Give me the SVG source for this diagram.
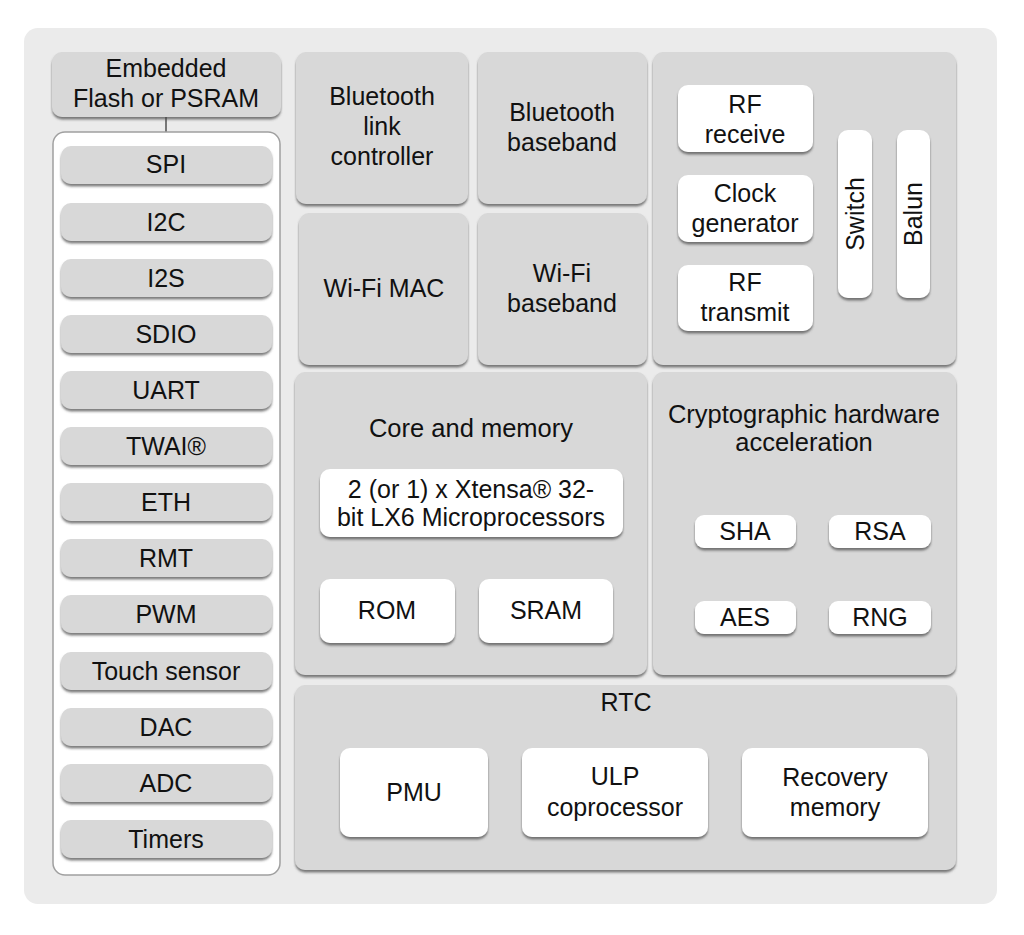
<svg xmlns="http://www.w3.org/2000/svg" width="1024" height="935" viewBox="0 0 1024 935">
<defs>
<filter id="sh" x="-10%" y="-10%" width="120%" height="130%">
<feDropShadow dx="0" dy="2.5" stdDeviation="1" flood-color="#444" flood-opacity="0.7"/>
</filter>
<style>
.g{fill:#d8d8d8;filter:url(#sh)}
.w{fill:#ffffff;filter:url(#sh)}
text{font-family:"Liberation Sans",Arial,sans-serif;font-size:25px;fill:#111;text-anchor:middle}
.t{font-size:25.5px}
</style>
</defs>
<rect x="24" y="28" width="973" height="876" rx="14" fill="#ebebeb"/>
<g id="connectors">
<line x1="166" y1="117" x2="166" y2="146" stroke="#777" stroke-width="2"/>
</g>
<g id="embedded">
<rect class="g" x="52" y="52" width="229" height="65" rx="10"/>
<text x="166" y="77">Embedded</text>
<text x="166" y="107">Flash or PSRAM</text>
</g>
<g id="peripherals">
<rect x="53" y="132" width="227" height="743" rx="12" fill="#fff" stroke="#a0a0a0" stroke-width="1.5"/>
</g>
<g id="spi"><rect class="g" x="61" y="146" width="211" height="38" rx="10"/><text x="166" y="173">SPI</text></g>
<g id="i2c"><rect class="g" x="61" y="203" width="211" height="38" rx="10"/><text x="166" y="231">I2C</text></g>
<g id="i2s"><rect class="g" x="61" y="259" width="211" height="38" rx="10"/><text x="166" y="287">I2S</text></g>
<g id="sdio"><rect class="g" x="61" y="315" width="211" height="38" rx="10"/><text x="166" y="343">SDIO</text></g>
<g id="uart"><rect class="g" x="61" y="371" width="211" height="38" rx="10"/><text x="166" y="399">UART</text></g>
<g id="twai"><rect class="g" x="61" y="427" width="211" height="38" rx="10"/><text x="166" y="455">TWAI®</text></g>
<g id="eth"><rect class="g" x="61" y="483" width="211" height="38" rx="10"/><text x="166" y="511">ETH</text></g>
<g id="rmt"><rect class="g" x="61" y="539" width="211" height="38" rx="10"/><text x="166" y="567">RMT</text></g>
<g id="pwm"><rect class="g" x="61" y="595" width="211" height="38" rx="10"/><text x="166" y="623">PWM</text></g>
<g id="touch"><rect class="g" x="61" y="652" width="211" height="38" rx="10"/><text x="166" y="680">Touch sensor</text></g>
<g id="dac"><rect class="g" x="61" y="708" width="211" height="38" rx="10"/><text x="166" y="736">DAC</text></g>
<g id="adc"><rect class="g" x="61" y="764" width="211" height="38" rx="10"/><text x="166" y="792">ADC</text></g>
<g id="timers"><rect class="g" x="61" y="820" width="211" height="38" rx="10"/><text x="166" y="848">Timers</text></g>

<g id="bt-link"><rect class="g" x="296" y="52" width="172" height="152" rx="10"/>
<text x="382" y="105">Bluetooth</text><text x="382" y="135">link</text><text x="382" y="165">controller</text></g>
<g id="bt-baseband"><rect class="g" x="478" y="52" width="169" height="152" rx="10"/>
<text x="562" y="121">Bluetooth</text><text x="562" y="151">baseband</text></g>
<g id="wifi-mac"><rect class="g" x="299" y="213" width="169" height="152" rx="10"/>
<text x="384" y="297">Wi-Fi MAC</text></g>
<g id="wifi-baseband"><rect class="g" x="478" y="213" width="169" height="152" rx="10"/>
<text x="562" y="282">Wi-Fi</text><text x="562" y="312">baseband</text></g>

<g id="rf"><rect class="g" x="653" y="52" width="303" height="313" rx="10"/></g>
<g id="rf-receive"><rect class="w" x="678" y="85" width="135" height="67" rx="10"/>
<text x="745" y="113">RF</text><text x="745" y="143">receive</text></g>
<g id="clock"><rect class="w" x="678" y="175" width="135" height="67" rx="10"/>
<text x="745" y="202">Clock</text><text x="745" y="232">generator</text></g>
<g id="rf-transmit"><rect class="w" x="678" y="265" width="135" height="66" rx="10"/>
<text x="745" y="291">RF</text><text x="745" y="321">transmit</text></g>
<g id="switch"><rect class="w" x="838" y="130" width="34" height="168" rx="10"/>
<text transform="translate(864,214) rotate(-90)">Switch</text></g>
<g id="balun"><rect class="w" x="897" y="130" width="33" height="168" rx="10"/>
<text transform="translate(922,214) rotate(-90)">Balun</text></g>

<g id="core"><rect class="g" x="295" y="372" width="352" height="303" rx="10"/>
<text class="t" x="471" y="437">Core and memory</text></g>
<g id="xtensa"><rect class="w" x="320" y="469" width="303" height="68" rx="10"/>
<text x="471" y="498">2 (or 1) x Xtensa® 32-</text><text x="471" y="526">bit LX6 Microprocessors</text></g>
<g id="rom"><rect class="w" x="320" y="579" width="135" height="64" rx="10"/><text x="387" y="619">ROM</text></g>
<g id="sram"><rect class="w" x="479" y="579" width="134" height="64" rx="10"/><text x="546" y="619">SRAM</text></g>

<g id="crypto"><rect class="g" x="653" y="372" width="303" height="303" rx="10"/>
<text class="t" x="804" y="423">Cryptographic hardware</text><text class="t" x="804" y="451">acceleration</text></g>
<g id="sha"><rect class="w" x="695" y="515" width="101" height="33" rx="9"/><text x="745" y="540">SHA</text></g>
<g id="rsa"><rect class="w" x="829" y="515" width="102" height="33" rx="9"/><text x="880" y="540">RSA</text></g>
<g id="aes"><rect class="w" x="695" y="601" width="101" height="33" rx="9"/><text x="745" y="626">AES</text></g>
<g id="rng"><rect class="w" x="829" y="601" width="102" height="33" rx="9"/><text x="880" y="626">RNG</text></g>

<g id="rtc"><rect class="g" x="295" y="685" width="661" height="185" rx="10"/>
<text x="626" y="711">RTC</text></g>
<g id="pmu"><rect class="w" x="340" y="748" width="148" height="89" rx="10"/><text x="414" y="801">PMU</text></g>
<g id="ulp"><rect class="w" x="522" y="748" width="186" height="89" rx="10"/>
<text x="615" y="785">ULP</text><text x="615" y="816">coprocessor</text></g>
<g id="recovery"><rect class="w" x="742" y="748" width="186" height="89" rx="10"/>
<text x="835" y="786">Recovery</text><text x="835" y="816">memory</text></g>
</svg>
